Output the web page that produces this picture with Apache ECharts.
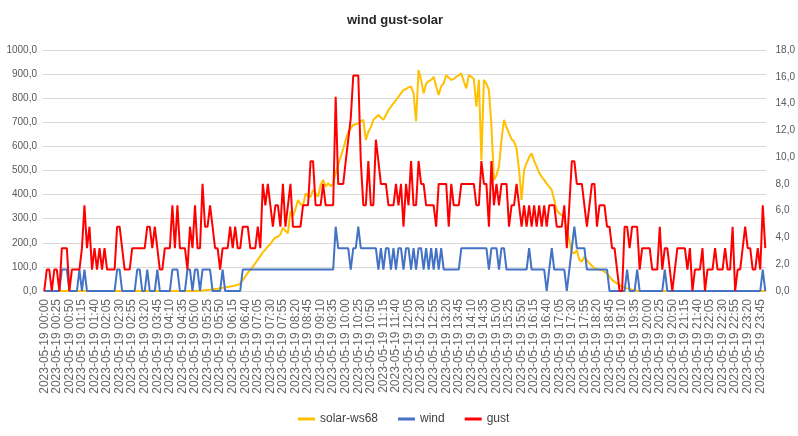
<!DOCTYPE html>
<html><head><meta charset="utf-8">
<script src="https://cdn.jsdelivr.net/npm/echarts@6/dist/echarts.min.js"></script>
<style>html,body{margin:0;padding:0;background:#fff}#c{width:798px;height:436px}</style>
</head><body><div id="c"></div>
<script>
// time categories, 5-minute steps over 2023-05-19
const categories = [];
for (let h = 0; h < 24; h++) for (let m = 0; m < 60; m += 5)
  categories.push('2023-05-19 ' + String(h).padStart(2, '0') + ':' + String(m).padStart(2, '0'));

const seriesNames = ['solar-ws68', 'wind', 'gust'];
const leftAxisRange = [0, 1000, 100];
const rightAxisRange = [0, 18, 2];

const solar = [
  0,0,0,0,0,0,0,0,0,0,0,0,
  0,0,0,0,0,0,0,0,0,0,0,0,
  0,0,0,0,0,0,0,0,0,0,0,0,
  0,0,0,0,0,0,0,0,0,0,0,0,
  0,0,0,0,0,0,0,0,0,0,0,0,
  0,0,1,2,3,4,5,6,8,9,11,13,
  15,17,19,21,23,25,30,45,60,75,87,100,
  115,130,145,160,172,185,195,210,222,225,235,262,
  250,240,330,310,340,378,360,355,405,395,390,419,
  405,391,440,461,433,447,435,445,490,525,557,590,
  627,660,675,689,692,696,705,710,627,660,680,710,
  720,730,720,710,730,751,765,779,792,806,820,834,
  838,845,848,820,705,917,876,820,860,870,876,889,
  850,813,850,862,896,885,876,880,889,895,903,870,
  841,896,889,880,765,876,543,876,860,834,682,461,
  480,516,627,710,680,654,630,620,592,502,378,502,
  531,555,571,540,516,490,474,461,445,433,419,378,
  336,322,315,308,253,212,160,156,170,129,122,142,
  128,115,105,94,90,88,87,80,73,60,46,38,
  32,25,18,14,11,8,5,3,1,0,0,0,
  0,0,0,0,0,0,0,0,0,0,0,0,
  0,0,0,0,0,0,0,0,0,0,0,0,
  0,0,0,0,0,0,0,0,0,0,0,0,
  0,0,0,0,0,0,0,0,0,0,0,0
];

const wind = [
  0,0,0,0,0,0,0,1.6,1.6,1.6,0,0,
  0,0,1.6,0,1.6,0,0,0,0,0,0,0,
  0,0,0,0,0,1.6,1.6,0,0,0,0,0,
  0,1.6,1.6,0,0,1.6,0,0,0,1.6,0,0,
  0,0,0,1.6,1.6,1.6,0,0,0,1.6,1.6,0,
  1.6,1.6,0,1.6,1.6,1.6,1.6,0,0,0,0,1.6,
  0,0,0,0,0,0,0,1.6,1.6,1.6,1.6,1.6,
  1.6,1.6,1.6,1.6,1.6,1.6,1.6,1.6,1.6,1.6,1.6,1.6,
  1.6,1.6,1.6,1.6,1.6,1.6,1.6,1.6,1.6,1.6,1.6,1.6,
  1.6,1.6,1.6,1.6,1.6,1.6,1.6,1.6,4.8,3.2,3.2,3.2,
  3.2,3.2,1.6,3.2,3.2,4.8,3.2,3.2,3.2,3.2,3.2,3.2,
  3.2,1.6,3.2,1.6,3.2,3.2,1.6,3.2,1.6,3.2,3.2,1.6,
  3.2,3.2,1.6,3.2,1.6,3.2,3.2,1.6,3.2,1.6,3.2,1.6,
  3.2,1.6,3.2,1.6,1.6,1.6,1.6,1.6,1.6,1.6,3.2,3.2,
  3.2,3.2,3.2,3.2,3.2,3.2,3.2,3.2,3.2,1.6,3.2,3.2,
  3.2,1.6,3.2,3.2,1.6,1.6,1.6,1.6,1.6,1.6,1.6,1.6,
  1.6,3.2,1.6,1.6,1.6,1.6,1.6,1.6,0,1.6,3.2,1.6,
  1.6,1.6,1.6,1.6,0,1.6,3.2,4.8,3.2,3.2,3.2,3.2,
  1.6,1.6,1.6,1.6,1.6,1.6,1.6,1.6,1.6,0,0,0,
  0,0,0,0,1.6,0,0,0,1.6,0,0,0,
  0,0,0,0,0,0,0,1.6,0,0,0,0,
  0,0,0,0,0,0,0,0,0,0,0,0,
  0,0,0,0,0,0,0,0,0,0,0,0,
  0,0,0,0,0,0,0,0,0,0,1.6,0
];

const gust = [
  0,1.6,1.6,0,1.6,1.6,0,3.2,3.2,3.2,0,1.6,
  1.6,1.6,1.6,3.2,6.4,3.2,4.8,1.6,3.2,1.6,3.2,1.6,
  3.2,1.6,1.6,1.6,1.6,4.8,4.8,3.2,1.6,1.6,1.6,3.2,
  3.2,3.2,3.2,3.2,3.2,4.8,4.8,3.2,4.8,3.2,1.6,1.6,
  3.2,3.2,3.2,6.4,3.2,6.4,3.2,3.2,3.2,1.6,4.8,3.2,
  6.4,3.2,3.2,8.0,4.8,4.8,6.4,4.8,3.2,3.2,1.6,3.2,
  3.2,3.2,4.8,3.2,4.8,3.2,3.2,4.8,4.8,4.8,3.2,3.2,
  3.2,4.8,3.2,8.0,6.4,8.0,6.4,4.8,6.4,6.4,4.8,8.0,
  4.8,6.4,8.0,4.8,4.8,4.8,4.8,6.4,6.4,6.4,9.7,9.7,
  6.4,6.4,6.4,8.0,6.4,6.4,6.4,6.4,14.5,8.0,8.0,8.0,
  9.7,11.3,12.9,16.1,16.1,16.1,9.7,6.4,6.4,9.7,6.4,6.4,
  11.3,9.7,8.0,8.0,8.0,6.4,6.4,6.4,8.0,6.4,8.0,4.8,
  8.0,6.4,9.7,6.4,6.4,9.7,8.0,8.0,6.4,6.4,6.4,6.4,
  4.8,8.0,8.0,8.0,8.0,4.8,8.0,6.4,6.4,6.4,8.0,8.0,
  8.0,8.0,8.0,8.0,6.4,6.4,9.7,8.0,8.0,4.8,9.7,6.4,
  8.0,6.4,8.0,8.0,8.0,4.8,6.4,6.4,8.0,6.4,4.8,6.4,
  4.8,6.4,4.8,6.4,4.8,6.4,4.8,6.4,4.8,6.4,6.4,6.4,
  4.8,4.8,4.8,6.4,3.2,6.4,9.7,9.7,8.0,8.0,8.0,6.4,
  4.8,6.4,8.0,8.0,4.8,6.4,6.4,6.4,4.8,4.8,3.2,3.2,
  1.6,0,0,4.8,4.8,3.2,4.8,4.8,4.8,1.6,3.2,3.2,
  3.2,3.2,1.6,1.6,1.6,4.8,1.6,3.2,3.2,1.6,0,1.6,
  3.2,3.2,3.2,3.2,1.6,3.2,0,1.6,1.6,1.6,3.2,0,
  1.6,1.6,1.6,3.2,1.6,1.6,1.6,3.2,1.6,1.6,4.8,0,
  1.6,1.6,3.2,4.8,3.2,3.2,1.6,1.6,3.2,1.6,6.4,3.2
];

const FONT = "'Liberation Sans', Arial, sans-serif";
const fmt = v => v.toFixed(1).replace('.', ',');

const chart = echarts.init(document.getElementById('c'), null, { renderer: 'canvas' });
chart.setOption({
  animation: false,
  backgroundColor: '#ffffff',
  title: {
    text: 'wind gust-solar', left: 342, top: 9,
    textStyle: { fontFamily: FONT, fontSize: 13, fontWeight: 'bold', color: '#262626' }
  },
  legend: {
    data: seriesNames, left: 293, bottom: 6, itemWidth: 17, itemHeight: 3, itemGap: 20,
    icon: 'rect',
    textStyle: { fontFamily: FONT, fontSize: 12, color: '#404040' }
  },
  grid: { left: 43, right: 29, top: 50, bottom: 145, containLabel: false },
  xAxis: {
    type: 'category', data: categories, boundaryGap: true,
    axisLine: { lineStyle: { color: '#d9d9d9', width: 1 } },
    axisTick: { show: false },
    axisLabel: { interval: 4, rotate: 90, fontFamily: FONT, fontSize: 12, color: '#666666', margin: 8 }
  },
  yAxis: [
    {
      type: 'value', min: leftAxisRange[0], max: leftAxisRange[1], interval: leftAxisRange[2],
      axisLine: { show: false }, axisTick: { show: false },
      splitLine: { lineStyle: { color: '#d9d9d9', width: 1 } },
      axisLabel: { formatter: fmt, fontFamily: FONT, fontSize: 10, color: '#595959', margin: 6 }
    },
    {
      type: 'value', position: 'right', min: rightAxisRange[0], max: rightAxisRange[1], interval: rightAxisRange[2],
      axisLine: { show: false }, axisTick: { show: false }, splitLine: { show: false },
      axisLabel: { formatter: fmt, fontFamily: FONT, fontSize: 10, color: '#595959', margin: 9 }
    }
  ],
  series: [
    { name: seriesNames[0], type: 'line', yAxisIndex: 0, data: solar, symbol: 'none',
      itemStyle: { color: '#FFC000' }, lineStyle: { color: '#FFC000', width: 2 } },
    { name: seriesNames[1], type: 'line', yAxisIndex: 1, data: wind, symbol: 'none',
      itemStyle: { color: '#4472C4' }, lineStyle: { color: '#4472C4', width: 2 } },
    { name: seriesNames[2], type: 'line', yAxisIndex: 1, data: gust, symbol: 'none',
      itemStyle: { color: '#FF0000' }, lineStyle: { color: '#FF0000', width: 2 } }
  ]
});
</script></body></html>
